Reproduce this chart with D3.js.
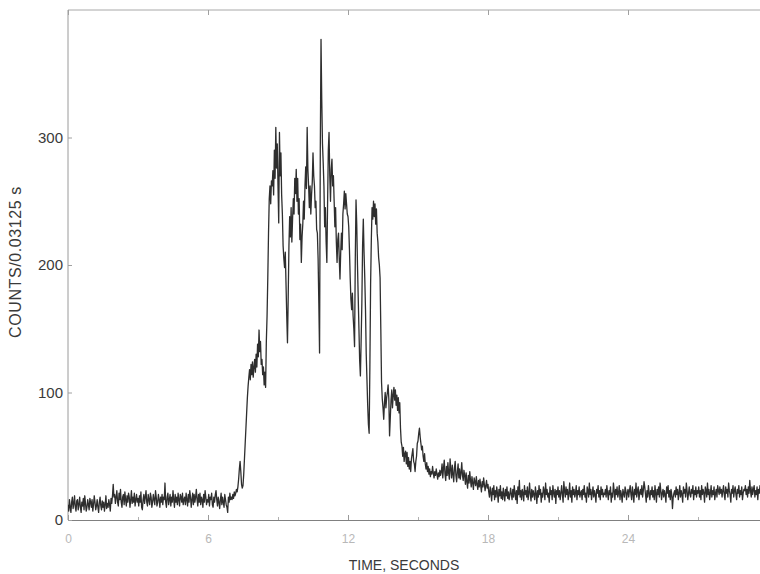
<!DOCTYPE html>
<html>
<head>
<meta charset="utf-8">
<script src="https://cdn.jsdelivr.net/npm/d3@7"></script>
<style>
  html, body { margin: 0; padding: 0; background: #fff; }
  svg { display: block; }
  text { font-family: "Liberation Sans", Arial, sans-serif; }
</style>
</head>
<body>
<svg id="chart" width="760" height="574"></svg>
<script>
// Burst light curve: counts per 0.03125 s bin, starting at t = 0.
const binWidth = 0.03125;

// one row per second (32 bins each)
const counts = [
  12,7,16,10,6,14,18,9,13,19,10,7,15,16,8,12,18,10,6,14,11,17,8,19,13,7,10,16,12,8,17,14,
  10,16,7,12,19,14,8,11,16,10,6,14,18,11,8,15,10,14,7,12,19,9,13,10,16,12,7,17,13,19,28,18,
  20,13,18,23,14,11,21,16,24,14,10,18,20,12,22,16,11,19,14,21,18,10,16,23,13,18,14,21,11,16,20,14,
  17,11,19,14,22,10,8,16,20,13,18,23,14,11,20,16,12,21,18,10,14,20,16,12,23,18,11,14,20,16,10,18,
  14,20,12,18,16,29,14,10,18,21,12,16,20,11,18,14,23,16,10,20,14,18,12,21,16,11,20,18,14,21,12,16,
  18,12,21,16,11,20,14,23,18,10,16,21,12,20,14,18,24,16,11,20,14,21,12,18,16,10,20,14,23,18,12,16,
  14,20,11,18,16,21,12,10,18,14,20,23,16,11,18,14,9,16,21,12,18,14,10,20,16,12,10,6,18,14,21,16,
  18,16,20,17,22,19,21,24,22,26,32,40,46,38,28,25,27,36,48,60,72,84,96,105,112,118,110,122,114,124,112,120,
  126,116,130,120,138,128,149,132,140,122,126,114,120,106,116,104,140,160,190,225,252,262,248,266,262,274,255,290,268,308,276,295,
  262,233,304,270,288,255,240,215,205,198,210,185,160,139,175,215,238,222,245,218,236,252,240,268,256,275,250,268,240,252,220,232,
  202,222,232,250,236,262,277,260,308,275,262,245,262,240,255,265,288,270,262,245,250,228,225,205,170,131,290,377,330,295,280,262,
  230,245,218,202,248,290,304,270,250,275,283,262,270,250,230,245,218,202,220,225,205,189,210,225,212,240,248,258,244,256,248,240,
  238,230,212,190,173,165,178,160,150,136,205,251,232,200,175,150,125,113,140,170,215,236,210,190,165,130,110,90,75,68,120,185,
  220,245,236,250,238,248,232,244,225,218,206,200,190,150,108,95,88,79,92,100,88,96,100,106,95,66,80,94,102,88,98,104,
  94,102,90,98,86,96,84,92,72,61,58,50,57,46,52,54,44,53,42,49,40,46,38,48,52,56,46,44,38,46,50,60,
  62,68,72,65,60,55,58,50,46,52,44,40,45,38,42,36,40,34,38,36,42,37,33,38,35,40,36,32,37,34,39,35,
  38,44,33,41,47,36,31,42,35,45,37,32,48,40,33,43,36,30,41,46,35,30,38,44,33,40,32,37,45,35,31,39,
  35,28,37,30,25,35,29,38,31,26,34,29,24,33,30,27,34,28,24,31,26,32,27,22,30,26,33,28,23,27,31,25,
  28,22,18,26,21,15,25,20,27,16,23,18,26,21,14,24,19,27,17,22,16,25,20,15,24,19,26,17,22,16,20,25,
  20,16,24,18,27,21,16,23,13,26,20,31,18,23,16,24,21,15,27,20,23,18,26,16,21,29,20,15,24,18,23,20,
  16,26,21,13,23,18,27,20,24,14,21,18,26,23,16,29,20,24,18,21,14,26,20,23,16,27,21,18,24,13,23,20,
  26,18,23,16,21,27,20,14,30,23,18,26,20,24,16,21,29,18,23,14,26,20,24,18,21,27,16,23,20,26,18,21,
  23,16,24,20,27,18,21,14,26,23,18,29,20,24,16,21,26,18,23,20,14,24,21,27,18,23,16,26,20,24,18,21,
  20,24,18,27,21,16,23,20,26,14,21,18,29,23,16,24,20,26,18,21,27,16,23,20,14,24,21,18,26,23,16,21,
  24,18,23,27,20,16,26,21,14,24,20,29,18,23,26,16,21,24,20,27,18,23,30,26,20,14,23,18,27,21,16,23,
  20,26,18,23,16,27,21,14,24,20,26,18,29,23,16,21,24,18,23,20,14,26,21,27,18,23,16,24,20,9,18,21,
  23,18,26,20,24,16,21,27,18,23,20,14,26,21,24,18,29,23,16,21,26,20,18,24,21,27,16,23,20,26,18,23,
  21,26,18,23,16,27,20,24,21,14,26,23,18,29,20,24,16,21,27,18,23,20,26,16,21,24,18,27,23,20,26,21,
  24,18,23,27,20,16,26,21,24,18,29,23,20,14,24,21,27,18,23,26,20,16,24,21,27,18,23,20,26,16,21,24,
  23,27,20,24,18,26,21,31,23,18,26,20,24,27,18,23,20,26,16,24,21,27,20,23,18,26,21,24,20,23,18,26
];

const xTicks = [0, 6, 12, 18, 24];
const xMinorTicks = [3, 9, 15, 21, 27];
const yTicks = [0, 100, 200, 300];
const xTitle = "TIME, SECONDS";
const yTitle = "COUNTS/0.03125 s";

const svg = d3.select("#chart");
const plot = { left: 68, top: 10, right: 768, bottom: 520 };

const x = d3.scaleLinear().domain([0, 30]).range([plot.left, plot.right]);
const y = d3.scaleLinear().domain([0, 400]).range([plot.bottom, plot.top]);

// frame
svg.append("line")
  .attr("x1", plot.left).attr("x2", plot.left)
  .attr("y1", plot.top).attr("y2", plot.bottom)
  .attr("stroke", "#9a9a9a").attr("stroke-width", 1);
svg.append("line")
  .attr("x1", plot.left).attr("x2", plot.right)
  .attr("y1", plot.top).attr("y2", plot.top)
  .attr("stroke", "#a8a8a8").attr("stroke-width", 1);

// bottom axis: ticks point into the plot
const gx = svg.append("g")
  .attr("transform", `translate(0,${plot.bottom})`)
  .call(d3.axisBottom(x).tickValues(xTicks).tickSize(-5).tickPadding(14)
    .tickFormat(d3.format("d")));
gx.select(".domain").attr("stroke", "#808080");
gx.selectAll(".tick line").attr("stroke", "#9a9a9a");
gx.selectAll(".tick text")
  .attr("fill", "#b8b8b8").attr("font-size", 12);

const gxMinor = svg.append("g")
  .attr("transform", `translate(0,${plot.bottom})`)
  .call(d3.axisBottom(x).tickValues(xMinorTicks).tickSize(-3).tickFormat(""));
gxMinor.select(".domain").remove();
gxMinor.selectAll(".tick line").attr("stroke", "#b0b0b0");

// matching ticks along the top edge
const gxTop = svg.append("g")
  .attr("transform", `translate(0,${plot.top})`)
  .call(d3.axisTop(x).tickValues(xTicks).tickSize(-5).tickFormat(""));
gxTop.select(".domain").remove();
gxTop.selectAll(".tick line").attr("stroke", "#a0a0a0");

// left axis
const gy = svg.append("g")
  .attr("transform", `translate(${plot.left},0)`)
  .call(d3.axisLeft(y).tickValues(yTicks).tickSize(-4).tickPadding(5)
    .tickFormat(d3.format("d")));
gy.select(".domain").remove();
gy.selectAll(".tick line").attr("stroke", "#a0a0a0");
gy.selectAll(".tick text")
  .attr("fill", "#3a3a3a").attr("font-size", 15);

// axis titles
svg.append("text")
  .attr("x", 404).attr("y", 570)
  .attr("text-anchor", "middle")
  .attr("font-size", 14).attr("fill", "#3a3a3a")
  .text(xTitle);
svg.append("text")
  .attr("transform", `translate(21,262) rotate(-90)`)
  .attr("text-anchor", "middle")
  .attr("font-size", 16).attr("letter-spacing", 0.6).attr("fill", "#3a3a3a")
  .text(yTitle);

// light curve
svg.append("clipPath").attr("id", "plotClip")
  .append("rect")
  .attr("x", plot.left).attr("y", plot.top)
  .attr("width", plot.right - plot.left).attr("height", plot.bottom - plot.top);

const line = d3.line()
  .x((d, i) => x(i * binWidth))
  .y(d => y(d));

svg.append("path")
  .datum(counts)
  .attr("clip-path", "url(#plotClip)")
  .attr("fill", "none")
  .attr("stroke", "#2e2e2e")
  .attr("stroke-width", 1.3)
  .attr("stroke-linejoin", "round")
  .attr("d", line);
</script>
</body>
</html>
